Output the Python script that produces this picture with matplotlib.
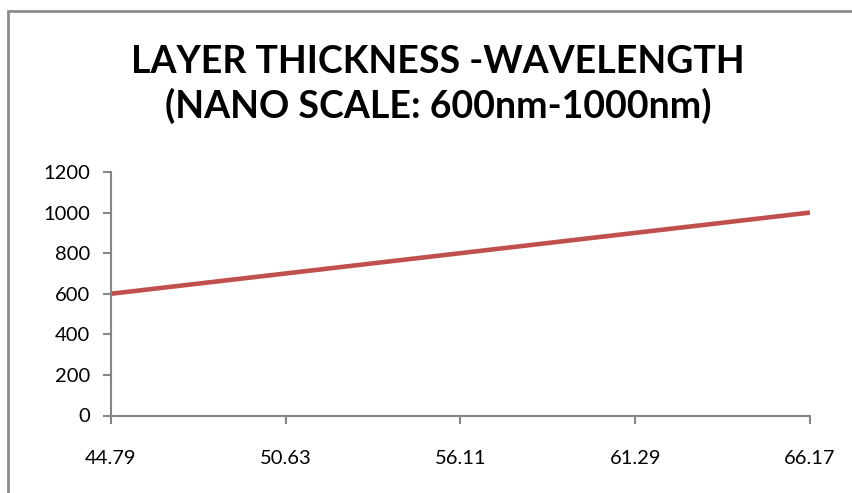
import matplotlib.pyplot as plt
from matplotlib.patches import Rectangle

categories = ['44.79', '50.63', '56.11', '61.29', '66.17']
wavelength = [600, 700, 800, 900, 1000]
y_ticks = [0, 200, 400, 600, 800, 1000, 1200]

plt.rcParams['font.family'] = ['Lato', 'DejaVu Sans']

fig = plt.figure(figsize=(8.53, 4.93), dpi=100)
ax = fig.add_axes([111 / 853, 77.5 / 493, 699 / 853, 243.5 / 493])

# outer chart border (only top and left visible in the crop)
fig.patches.append(Rectangle((8 / 853, -0.1), 1.2, 1 - 11 / 493 + 0.1,
                             transform=fig.transFigure, fill=False,
                             edgecolor='#8c8c8c', linewidth=2))

x = list(range(len(categories)))
ax.plot(x, wavelength, color='#C0504D', linewidth=3.3, solid_capstyle='butt')

ax.set_xlim(0, len(categories) - 1)
ax.set_ylim(0, 1200)
ax.set_xticks(x)
ax.set_xticklabels(categories)
ax.set_yticks(y_ticks)

for s in ['top', 'right']:
    ax.spines[s].set_visible(False)
for s in ['left', 'bottom']:
    ax.spines[s].set_color('#868686')
    ax.spines[s].set_linewidth(1.5)
ax.tick_params(axis='both', direction='out', length=6, width=1.5, color='#868686',
               labelsize=14.5, labelcolor='black')
ax.tick_params(axis='x', pad=19)
ax.tick_params(axis='y', pad=9)

fig.text(0.5135, 1 - 62 / 493, 'LAYER THICKNESS -WAVELENGTH', ha='center', va='center',
         fontsize=27, fontweight='bold')
fig.text(0.5135, 1 - 106 / 493, '(NANO SCALE: 600nm-1000nm)', ha='center', va='center',
         fontsize=27, fontweight='bold')

fig.savefig('out.png', dpi=100)
